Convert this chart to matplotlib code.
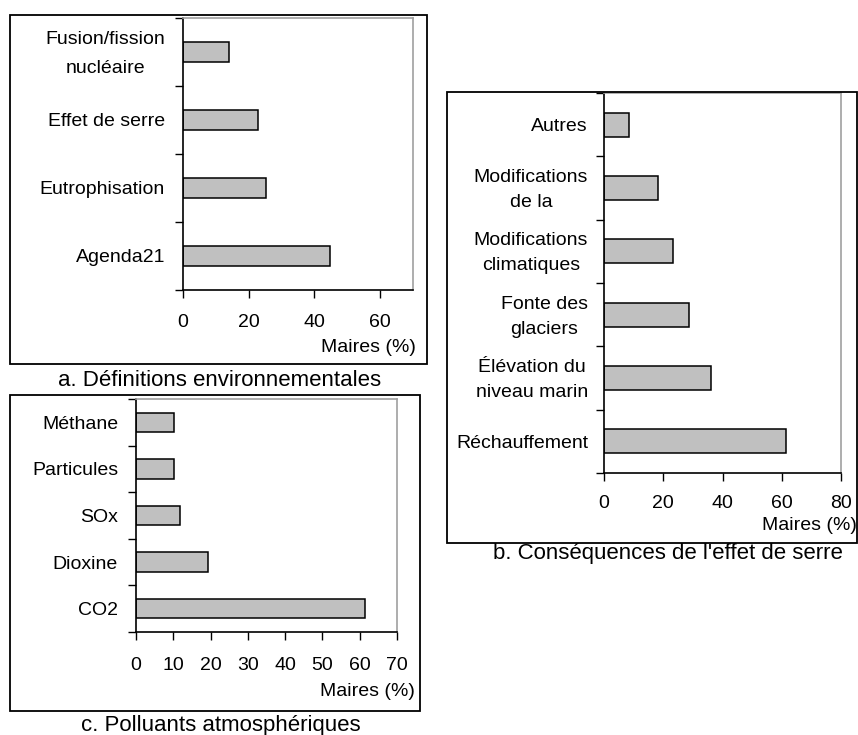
import matplotlib
matplotlib.use("Agg")
import matplotlib.pyplot as plt
from matplotlib.patches import Rectangle
from matplotlib.ticker import FixedLocator, NullFormatter
from matplotlib.transforms import ScaledTranslation
import numpy as np

plt.rcParams['font.family'] = ['Liberation Sans', 'DejaVu Sans']

# ---- data ----
cats_a = ["Fusion/fission\nnucléaire", "Effet de serre", "Eutrophisation", "Agenda21"]
vals_a = [14, 22.7, 25.3, 44.6]
ticks_a = [0, 20, 40, 60]
title_a = "a. Définitions environnementales"

cats_b = ["Autres", "Modifications\nde la", "Modifications\nclimatiques",
          "Fonte des\nglaciers", "Élévation du\nniveau marin", "Réchauffement"]
vals_b = [8.4, 18.2, 23.2, 28.6, 36.2, 61.5]
ticks_b = [0, 20, 40, 60, 80]
title_b = "b. Conséquences de l'effet de serre"

cats_c = ["Méthane", "Particules", "SOx", "Dioxine", "CO2"]
vals_c = [10.3, 10.3, 11.8, 19.2, 61.3]
ticks_c = [0, 10, 20, 30, 40, 50, 60, 70]
title_c = "c. Polluants atmosphériques"

xlabel = "Maires (%)"

W, H = 858, 735
fig = plt.figure(figsize=(W / 100, H / 100), dpi=100)
fig.patch.set_facecolor("white")

FS = 14
TFS = 16


def px_rect(l, t, r, b):
    return [l / W, 1 - b / H, (r - l) / W, (b - t) / H]


def panel(rect, cats, vals, ticks, xmax, barh, linesp, xpad, ypad_px):
    ax = fig.add_axes(px_rect(*rect))
    n = len(cats)
    ypos = np.arange(n)[::-1]  # first category on top
    ax.barh(ypos, vals, height=barh, color="#c0c0c0", edgecolor="black", linewidth=1.1)
    ax.set_ylim(-0.5, n - 0.5)
    ax.set_xlim(0, xmax)
    ax.set_yticks(ypos)
    ax.set_yticklabels([""] * n)
    ax.yaxis.set_minor_locator(FixedLocator(np.arange(n + 1) - 0.5))
    ax.yaxis.set_minor_formatter(NullFormatter())
    ax.tick_params(axis="y", which="major", length=0)
    ax.tick_params(axis="y", which="minor", length=6, width=1, direction="out")
    ax.set_xticks(ticks)
    ax.tick_params(axis="x", length=6, width=1, direction="out", pad=xpad, labelsize=FS)
    trans = ax.get_yaxis_transform() + ScaledTranslation(-ypad_px / 100, -0.02, fig.dpi_scale_trans)
    for y, c in zip(ypos, cats):
        ax.text(0, y, c, transform=trans, ha="right", va="center",
                multialignment="center", linespacing=linesp, fontsize=FS)
    for s in ["top", "right"]:
        ax.spines[s].set_color("#a0a0a0")
        ax.spines[s].set_linewidth(1.2)
    for s in ["left", "bottom"]:
        ax.spines[s].set_color("black")
        ax.spines[s].set_linewidth(1.2)
    ax.set_facecolor("white")
    return ax


def box(l, t, r, b):
    fig.add_artist(Rectangle((l / W, 1 - b / H), (r - l) / W, (b - t) / H,
                             transform=fig.transFigure, fill=False,
                             edgecolor="black", linewidth=1.3))


# Panel a
panel((183, 18, 413, 290), cats_a, vals_a, ticks_a, 70, 0.3, 1.95, 11, 18)
box(10, 15, 427, 364)
fig.text(416 / W, 1 - 347 / H, xlabel, ha="right", va="center", fontsize=FS)
fig.text(220 / W, 1 - 381 / H, title_a, ha="center", va="center", fontsize=TFS)

# Panel b
panel((604, 93, 841, 473), cats_b, vals_b, ticks_b, 80, 0.38, 1.6, 10, 16)
box(447, 92, 857, 543)
fig.text(857 / W, 1 - 525 / H, xlabel, ha="right", va="center", fontsize=FS)
fig.text(668 / W, 1 - 554 / H, title_b, ha="center", va="center", fontsize=TFS)

# Panel c
panel((136, 399, 397, 632), cats_c, vals_c, ticks_c, 70, 0.42, 1.2, 12, 18)
box(10, 395, 420, 711)
fig.text(415 / W, 1 - 692 / H, xlabel, ha="right", va="center", fontsize=FS)
fig.text(221 / W, 1 - 726 / H, title_c, ha="center", va="center", fontsize=TFS)

fig.savefig("out.png", dpi=100, facecolor="white")
